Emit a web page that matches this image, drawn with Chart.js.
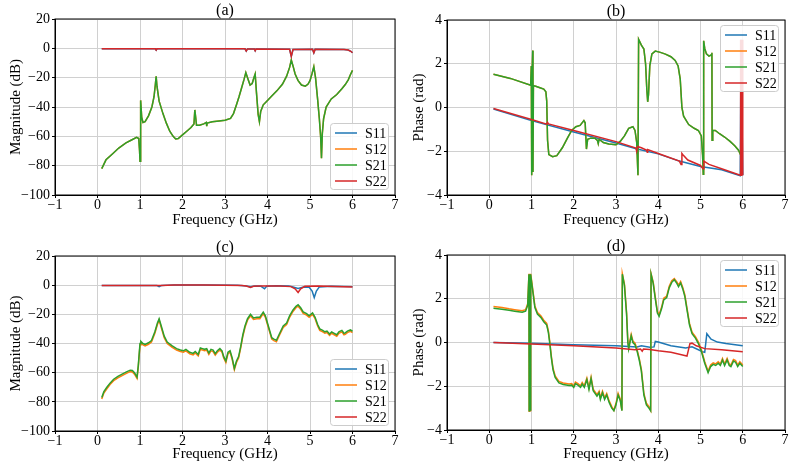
<!DOCTYPE html>
<html>
<head>
<meta charset="utf-8">
<script src="https://cdn.jsdelivr.net/npm/chart.js@4.4.0/dist/chart.umd.min.js"></script>
<style>
  body { margin: 0; background: #fff; }
  #wrap { position: relative; width: 795px; height: 468px; overflow: hidden; }
  #wrap canvas { position: absolute; }
</style>
</head>
<body>
<div id="wrap">
  <canvas id="chartA" width="400" height="234" style="left:0;top:0"></canvas>
  <canvas id="chartB" width="400" height="234" style="left:395px;top:0"></canvas>
  <canvas id="chartC" width="400" height="234" style="left:0;top:234px"></canvas>
  <canvas id="chartD" width="400" height="234" style="left:395px;top:234px"></canvas>
</div>
<script>
const seriesNames = ['S11', 'S12', 'S21', 'S22'];
const seriesColors = ['#1f77b4', '#ff7f0e', '#2ca02c', '#d62728'];
const xTicks = [-1, 0, 1, 2, 3, 4, 5, 6, 7];

// (a) magnitude, dB
const aF21 = [0.1,0.2,0.35,0.5,0.67,0.8,0.92,0.97,0.99,1.0,1.01,1.02,1.04,1.07,1.12,1.2,1.28,1.33,1.36,1.38,1.4,1.45,1.54,1.62,1.7,1.78,1.84,1.9,2.0,2.1,2.2,2.27,2.29,2.31,2.33,2.4,2.5,2.56,2.57,2.58,2.7,2.86,3.0,3.13,3.2,3.27,3.33,3.39,3.45,3.49,3.53,3.59,3.64,3.68,3.71,3.74,3.78,3.81,3.84,3.9,4.0,4.1,4.22,4.35,4.45,4.52,4.56,4.6,4.65,4.72,4.8,4.89,4.95,5.0,5.05,5.09,5.13,5.18,5.22,5.25,5.27,5.29,5.32,5.38,5.5,5.63,5.75,5.83,5.9,5.95,6.0];
const aS21 = [-82,-76,-72,-68,-64.5,-62.5,-60.7,-61.5,-70,-77,-60,-35.5,-47,-50.5,-50,-46,-40,-33,-25,-19,-26,-36,-44.5,-51,-56.5,-60,-61.8,-61.5,-59,-56.5,-54,-51.5,-42,-47,-52.5,-52.5,-51.5,-50.5,-53,-51,-50,-49.5,-49,-47.8,-44.5,-38.5,-33,-27,-21,-16.5,-20,-25,-24,-20,-17.5,-30,-45,-50,-43,-38.5,-35.5,-32.5,-29,-24.5,-19,-13,-8,-12,-17.5,-22,-25,-25.8,-24.5,-22,-17,-12.5,-20,-35,-48,-60,-75,-58,-48,-40,-34.5,-31.5,-27.5,-24.7,-21.5,-18,-15];
const aF22 = [0.1,1.36,1.38,1.4,3.47,3.5,3.53,3.69,3.71,3.73,4.52,4.56,4.6,5.06,5.09,5.12,5.8,5.9,5.96,6.0];
const aS22 = [-0.3,-0.3,-1.2,-0.3,-0.3,-1.8,-0.4,-0.4,-1.6,-0.4,-0.6,-5.5,-0.8,-0.6,-3,-0.7,-0.8,-1.2,-2,-3];

// (b) phase, rad
const bF21 = [0.1,0.5,0.98,0.995,1.0,1.01,1.03,1.035,1.045,1.1,1.2,1.29,1.34,1.36,1.38,1.41,1.5,1.6,1.73,1.85,1.95,2.05,2.15,2.24,2.27,2.3,2.33,2.4,2.5,2.56,2.58,2.6,2.7,2.83,3.0,3.1,3.2,3.3,3.4,3.45,3.49,3.52,3.535,3.6,3.66,3.7,3.73,3.75,3.77,3.8,3.85,3.93,4.05,4.17,4.3,4.4,4.47,4.52,4.56,4.6,4.72,4.85,4.95,5.02,5.05,5.065,5.075,5.1,5.14,5.2,5.25,5.27,5.275,5.29,5.35,5.45,5.57,5.7,5.81,5.9,5.96];
const bS21 = [1.52,1.33,1.02,1.9,-3.1,0.95,2.6,-2.95,1.0,0.97,0.9,0.84,0.72,0.3,-1.5,-2.15,-2.25,-2.2,-1.84,-1.4,-1.05,-0.88,-0.82,-0.6,-0.7,-1.9,-1.45,-1.4,-1.4,-1.5,-1.65,-1.45,-1.6,-1.67,-1.7,-1.55,-1.3,-0.95,-0.88,-1.05,-1.6,-3.1,3.12,2.85,2.67,2.0,0.8,0.26,0.6,1.9,2.45,2.58,2.52,2.44,2.32,2.15,1.9,1.3,0.0,-0.4,-0.78,-0.95,-1.05,-1.3,-2.2,-3.05,3.05,2.7,2.45,2.35,2.4,2.5,-1.5,-1.05,-1.05,-1.2,-1.35,-1.55,-1.75,-1.95,-2.2];
const bF22 = [0.1,1.0,1.36,1.38,1.4,2.0,3.0,3.47,3.49,3.51,3.6,3.72,3.74,3.75,4.0,4.5,4.54,4.56,4.6,4.7,5.0,5.06,5.08,5.2,5.5,5.94,5.95,5.96,5.97,5.98,5.99,6.0];
const bS22 = [-0.05,-0.55,-0.76,-0.68,-0.75,-1.05,-1.56,-1.85,-2.0,-1.78,-1.84,-1.95,-2.05,-1.92,-2.1,-2.45,-2.6,-2.1,-2.2,-2.4,-2.65,-2.8,-2.45,-2.6,-2.8,-3.1,3.1,-3.1,3.1,-3.1,3.1,-3.1];
const bF11 = [0.1,1.0,2.0,3.0,3.5,4.0,4.5,5.0,5.5,5.94,5.96,6.0];
const bS11 = [-0.07,-0.6,-1.12,-1.62,-1.9,-2.12,-2.45,-2.7,-2.85,-3.12,3.1,-3.1];

// (c) magnitude, dB
const cF21 = [0.1,0.15,0.22,0.3,0.38,0.48,0.58,0.68,0.77,0.82,0.87,0.93,0.96,1.0,1.02,1.07,1.12,1.2,1.27,1.35,1.41,1.45,1.5,1.57,1.64,1.75,1.86,1.95,2.02,2.08,2.17,2.25,2.3,2.37,2.42,2.47,2.52,2.57,2.62,2.67,2.72,2.77,2.82,2.88,2.93,2.97,3.02,3.07,3.12,3.17,3.22,3.27,3.32,3.37,3.42,3.47,3.53,3.6,3.67,3.75,3.82,3.9,3.95,4.02,4.1,4.15,4.21,4.27,4.37,4.45,4.52,4.6,4.67,4.72,4.78,4.84,4.92,4.98,5.06,5.12,5.18,5.23,5.3,5.35,5.4,5.46,5.51,5.57,5.63,5.68,5.75,5.8,5.83,5.88,5.95,6.0];
const cS21 = [-77,-73,-70,-67,-64.5,-62.5,-61,-59.5,-58.3,-58.5,-60,-63,-55,-40,-38.5,-40,-40.6,-39.5,-38,-32,-26,-23,-28,-35,-39,-41.5,-43.5,-44.5,-45,-44,-46,-46.8,-45.5,-47.5,-43,-43.5,-44,-43.5,-46.5,-44,-44.5,-47,-45,-43.5,-45,-49,-52,-46,-45,-50,-57,-52,-49,-42,-34,-28,-23,-20,-22.5,-22,-22,-18.5,-21,-28,-36,-37,-37.8,-34,-28,-26,-21,-17,-14.5,-13.4,-15.5,-18.4,-19.5,-21,-19,-22,-27,-30,-31,-32,-31.5,-33.5,-32,-33,-34,-32,-31,-33,-32.7,-31.5,-30.7,-31.6];
const cS12 = [-78,-74,-71,-68,-65.5,-63.5,-62,-60.5,-59.3,-59.5,-61,-64,-56,-41,-39.5,-41,-41.6,-40.5,-39,-33,-27,-24,-29,-36,-40,-42.5,-44.5,-45.5,-46,-45,-47,-47.8,-46.5,-48.5,-44,-44.5,-45,-44.5,-47.5,-45,-45.5,-48,-46,-44.5,-46,-50,-53,-47,-46,-51,-58,-53,-50,-43,-35,-29,-24,-21,-23.5,-23,-23,-19.5,-22,-29,-37,-38,-38.8,-35,-29,-27,-22,-18,-15.5,-14.4,-16.5,-19.4,-20.5,-22,-20,-23,-28,-31,-32,-33,-32.5,-34.5,-33,-34,-35,-33,-32,-34,-33.7,-32.5,-31.7,-32.6];
const cF22 = [0.1,1.5,1.8,2.5,3.0,3.4,3.5,3.6,3.67,3.8,3.95,4.3,4.55,4.65,4.72,4.78,4.88,5.2,5.6,6.0];
const cS22 = [-0.2,-0.2,0.1,0.1,0,-0.2,-0.6,-1.6,-0.8,-0.5,-0.6,-0.6,-1,-2.5,-5,-2.5,-0.8,-0.6,-0.9,-1.2];
const cF11 = [0.1,1.4,1.45,1.5,1.8,2.6,3.3,3.5,3.6,3.7,3.85,3.93,3.98,4.2,4.5,4.6,4.72,4.85,4.98,5.05,5.1,5.15,5.22,5.5,6.0];
const cS11 = [-0.2,-0.3,-1,-0.3,0.2,0.2,-0.1,-0.5,-1,-0.5,-0.8,-2.5,-0.8,-0.4,-0.5,-1.3,-2.2,-1.3,-1.5,-4,-8.5,-4,-1.2,-0.7,-1];

// (d) phase, rad
const dF21 = [0.1,0.3,0.47,0.6,0.78,0.86,0.91,0.94,0.945,0.955,0.96,0.97,0.975,0.985,1.0,1.04,1.08,1.14,1.22,1.29,1.36,1.4,1.43,1.47,1.51,1.56,1.65,1.75,1.89,1.95,2.0,2.04,2.1,2.16,2.2,2.25,2.31,2.36,2.41,2.46,2.55,2.6,2.63,2.68,2.73,2.78,2.84,2.9,2.95,3.0,3.05,3.1,3.14,3.15,3.2,3.25,3.28,3.3,3.33,3.36,3.4,3.45,3.5,3.55,3.6,3.66,3.72,3.78,3.82,3.83,3.88,3.93,3.98,4.02,4.08,4.13,4.2,4.26,4.32,4.38,4.44,4.48,4.53,4.58,4.63,4.68,4.74,4.8,4.88,4.95,5.02,5.1,5.18,5.24,5.3,5.36,5.42,5.47,5.52,5.57,5.63,5.68,5.72,5.78,5.83,5.88,5.93,6.0];
const dS21 = [1.57,1.52,1.47,1.43,1.38,1.43,1.7,3.12,-3.12,3.1,-3.1,3.12,-3.12,3.1,2.8,2.2,1.6,1.3,1.15,0.95,0.8,0.45,0.0,-0.7,-1.25,-1.6,-1.85,-1.92,-1.97,-1.95,-2.05,-1.88,-1.95,-2.05,-1.9,-2.05,-1.7,-2.15,-1.65,-2.2,-2.45,-2.3,-2.6,-2.3,-2.6,-2.4,-2.75,-3.0,-3.12,-2.85,-2.4,-2.65,-3.12,3.12,2.6,1.3,0.0,-0.3,0.0,0.3,0.0,-0.1,-0.4,-0.8,-1.3,-2.4,-2.85,-3.0,-3.12,3.12,2.7,2.0,1.35,1.2,1.55,1.95,2.05,2.5,2.75,2.87,2.7,2.55,2.72,2.45,2.1,1.5,0.8,0.4,0.2,-0.05,-0.4,-0.95,-1.38,-1.1,-1.0,-1.05,-0.95,-1.05,-0.8,-1.05,-0.8,-1.05,-1.1,-0.85,-0.9,-1.1,-0.95,-1.1];
const dS12 = [1.65,1.6,1.54,1.5,1.45,1.5,1.77,3.14,-3.14,3.12,-3.12,3.14,-3.14,3.12,2.87,2.27,1.67,1.37,1.22,1.02,0.87,0.52,0.07,-0.63,-1.18,-1.53,-1.78,-1.85,-1.9,-1.88,-1.98,-1.81,-1.88,-1.98,-1.83,-1.98,-1.63,-2.08,-1.58,-2.13,-2.38,-2.23,-2.53,-2.23,-2.53,-2.33,-2.68,-2.93,-3.1,-2.78,-2.33,-2.58,-3.1,3.14,2.67,1.37,0.07,-0.23,0.07,0.37,0.07,-0.03,-0.33,-0.73,-1.23,-2.33,-2.78,-2.93,-3.1,3.14,2.77,2.07,1.42,1.27,1.62,2.02,2.12,2.57,2.82,2.92,2.77,2.62,2.79,2.52,2.17,1.57,0.87,0.47,0.27,0.02,-0.33,-0.88,-1.31,-1.03,-0.93,-0.98,-0.88,-0.98,-0.73,-0.98,-0.73,-0.98,-1.03,-0.78,-0.83,-1.03,-0.88,-1.03];
const dF11 = [0.1,1.0,2.0,3.0,3.5,3.6,3.8,3.9,3.93,4.0,4.3,4.65,4.8,5.05,5.1,5.15,5.25,5.4,5.6,6.0];
const dS11 = [0.0,-0.03,-0.1,-0.15,-0.2,-0.15,-0.22,-0.2,0.05,0.02,-0.15,-0.25,-0.2,-0.42,-0.45,0.4,0.15,0.02,-0.05,-0.15];
const dF22 = [0.1,1.0,2.0,3.0,3.45,3.58,3.62,3.65,3.8,4.0,4.3,4.6,4.68,4.75,4.8,4.9,5.1,5.5,6.0];
const dS22 = [0.0,-0.07,-0.15,-0.25,-0.33,-0.3,-0.4,-0.3,-0.32,-0.38,-0.45,-0.58,-0.62,-0.05,-0.03,-0.15,-0.28,-0.33,-0.42];

Chart.defaults.font.family = '"Liberation Serif", serif';
Chart.defaults.color = '#000';

const pts = (xs, ys) => xs.map((x, i) => ({ x: x, y: ys[i] }));
const fmt = v => (v < 0 ? '\u2212' + Math.abs(v) : String(v));

// frame, panel letter and boxed legend, drawn the matplotlib way
const panelPlugin = {
    id: 'panel',
    afterDraw(chart, args, o) {
        const { ctx, chartArea: a } = chart;
        ctx.save();
        ctx.strokeStyle = '#000';
        ctx.lineWidth = 1;
        ctx.strokeRect(a.left, a.top, a.right - a.left, a.bottom - a.top);

        ctx.font = '16px "Liberation Serif"';
        ctx.fillStyle = '#000';
        ctx.textAlign = 'center';
        ctx.textBaseline = 'alphabetic';
        ctx.fillText(o.title, (a.left + a.right) / 2, a.top - 4);

        const w = 58, h = 66;
        const bx = a.right - 7 - w;
        const by = o.legendAt === 'top' ? a.top + 5 : a.bottom - 6 - h;
        ctx.fillStyle = 'rgba(255,255,255,0.85)';
        ctx.strokeStyle = '#cccccc';
        ctx.beginPath();
        ctx.roundRect(bx + 0.5, by + 0.5, w, h, 3);
        ctx.fill();
        ctx.stroke();

        ctx.font = '14px "Liberation Serif"';
        ctx.textAlign = 'left';
        ctx.textBaseline = 'middle';
        chart.data.datasets.forEach((d, i) => {
            const yy = by + 10 + i * 16;
            ctx.strokeStyle = d.borderColor;
            ctx.lineWidth = 1.5;
            ctx.beginPath();
            ctx.moveTo(bx + 5, yy);
            ctx.lineTo(bx + 27, yy);
            ctx.stroke();
            ctx.fillStyle = '#000';
            ctx.fillText(d.label, bx + 35, yy + 1);
        });
        ctx.restore();
    }
};

function makeChart(p) {
    const ctx = document.getElementById(p.id).getContext('2d');
    return new Chart(ctx, {
        type: 'line',
        data: {
            datasets: p.series.map((s, i) => ({
                label: seriesNames[i],
                data: pts(s[0], s[1]),
                borderColor: seriesColors[i],
                borderWidth: 1.5,
                pointRadius: 0,
                fill: false,
                tension: 0,
                order: 4 - i
            }))
        },
        options: {
            responsive: false,
            animation: false,
            events: [],
            layout: { padding: { top: p.top, right: p.right, bottom: 0, left: 0 } },
            plugins: {
                legend: { display: false },
                tooltip: { enabled: false },
                panel: { title: p.title, legendAt: p.legendAt }
            },
            scales: {
                x: {
                    type: 'linear',
                    min: xTicks[0],
                    max: xTicks[xTicks.length - 1],
                    ticks: { stepSize: 1, font: { size: 14 }, padding: -1, callback: fmt },
                    grid: { color: '#d0d0d0', tickColor: '#000', tickLength: 3 },
                    border: { color: '#000' },
                    title: { display: true, text: 'Frequency (GHz)', font: { size: 15 }, padding: { top: 0, bottom: 5 } },
                    afterFit: s => { s.height = p.bottom; }
                },
                y: {
                    type: 'linear',
                    min: p.yMin,
                    max: p.yMax,
                    ticks: { stepSize: p.yStep, font: { size: 14 }, padding: 2, callback: fmt },
                    grid: { color: '#d0d0d0', tickColor: '#000', tickLength: 3 },
                    border: { color: '#000' },
                    title: { display: true, text: p.yTitle, font: { size: 15 }, padding: { top: p.yPad, bottom: 0 } },
                    afterFit: s => { s.width = p.left; }
                }
            }
        },
        plugins: [panelPlugin]
    });
}

makeChart({
    id: 'chartA', title: '(a)', yTitle: 'Magnitude (dB)', yMin: -100, yMax: 20, yStep: 20,
    legendAt: 'bottom', left: 55, right: 5, top: 19, bottom: 39, yPad: 7,
    series: [[aF22, aS22], [aF21, aS21], [aF21, aS21], [aF22, aS22]]
});
makeChart({
    id: 'chartB', title: '(b)', yTitle: 'Phase (rad)', yMin: -4, yMax: 4, yStep: 2,
    legendAt: 'top', left: 52, right: 10, top: 20, bottom: 39, yPad: 15,
    series: [[bF11, bS11], [bF21, bS21], [bF21, bS21], [bF22, bS22]]
});
makeChart({
    id: 'chartC', title: '(c)', yTitle: 'Magnitude (dB)', yMin: -100, yMax: 20, yStep: 20,
    legendAt: 'bottom', left: 55, right: 5, top: 22, bottom: 37, yPad: 7,
    series: [[cF11, cS11], [cF21, cS12], [cF21, cS21], [cF22, cS22]]
});
makeChart({
    id: 'chartD', title: '(d)', yTitle: 'Phase (rad)', yMin: -4, yMax: 4, yStep: 2,
    legendAt: 'top', left: 52, right: 10, top: 21, bottom: 38, yPad: 15,
    series: [[dF11, dS11], [dF21, dS12], [dF21, dS21], [dF22, dS22]]
});
</script>
</body>
</html>
